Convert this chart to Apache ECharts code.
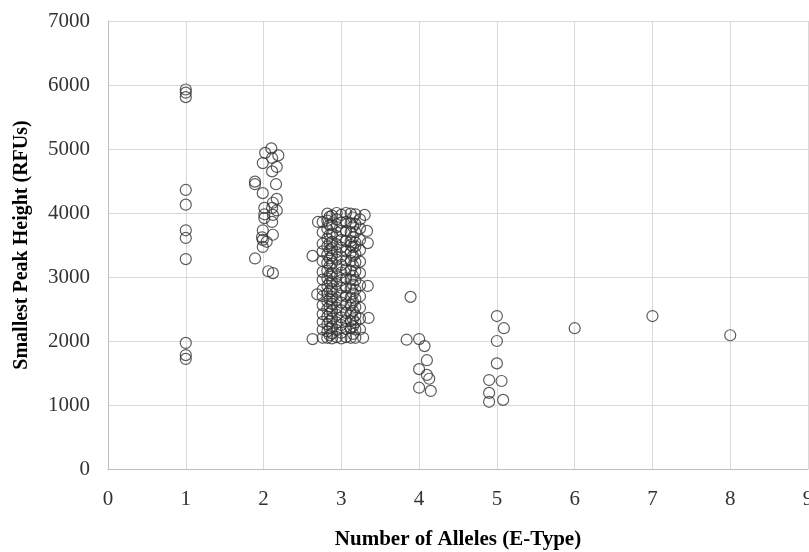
<!DOCTYPE html>
<html>
<head>
<meta charset="utf-8">
<script src="https://cdn.jsdelivr.net/npm/echarts@6/dist/echarts.min.js"></script>
<style>
    html, body {margin: 0; padding: 0; background: #fff;}
    #main {width: 809px; height: 552px;}
</style>
</head>
<body>
<div id="main"></div>
<script>
    // one allele
    var one = [[1, 5930], [1, 5880], [1, 5810], [1, 4360], [1, 4130], [1, 3730], [1, 3610], [1, 3280], [1, 1970], [1, 1780], [1, 1720]];
    // two alleles (jittered around 2)
    var two = [
        [2.10, 5010], [2.02, 4940], [2.19, 4900], [2.11, 4860], [1.99, 4780], [2.17, 4720], [2.11, 4650],
        [1.89, 4490], [1.89, 4450], [2.16, 4450], [1.99, 4310], [2.17, 4220], [2.12, 4160], [2.11, 4080],
        [2.01, 4080], [2.17, 4040], [2.01, 3980], [2.12, 3970], [2.01, 3920], [2.11, 3860], [1.99, 3730],
        [2.12, 3660], [1.98, 3620], [1.99, 3580], [2.04, 3550], [1.99, 3470], [1.89, 3290], [2.06, 3090], [2.12, 3060]
    ];
    // three alleles, column by column
    var threeCols = [2.76, 2.82, 2.85, 2.88, 2.94, 3.00, 3.06, 3.12, 3.15, 3.18, 3.24];
    var threeVals = [
        [3860, 3700, 3520, 3400, 3250, 3080, 2960, 2800, 2700, 2560, 2420, 2300, 2180, 2050],
        [3990, 3880, 3750, 3600, 3480, 3350, 3220, 3100, 2980, 2860, 2740, 2620, 2500, 2380, 2260, 2150, 2050],
        [3940, 3810, 3660, 3530, 3420, 3290, 3170, 3030, 2910, 2780, 2650, 2540, 2430, 2310, 2200, 2090],
        [3960, 3820, 3680, 3550, 3450, 3330, 3210, 3060, 2930, 2810, 2690, 2580, 2470, 2350, 2230, 2120, 2040],
        [4000, 3900, 3780, 3640, 3510, 3390, 3270, 3140, 3010, 2890, 2770, 2640, 2520, 2410, 2290, 2170, 2060],
        [3970, 3850, 3720, 3580, 3460, 3320, 3190, 3070, 2950, 2830, 2710, 2600, 2480, 2370, 2250, 2130, 2040],
        [4000, 3860, 3720, 3560, 3400, 3260, 3120, 2980, 2840, 2700, 2570, 2440, 2310, 2190, 2060],
        [3990, 3840, 3700, 3560, 3500, 3380, 3250, 3100, 2960, 2820, 2680, 2560, 2430, 2310, 2200, 2050],
        [3930, 3790, 3620, 3470, 3330, 3180, 3020, 2880, 2740, 2610, 2470, 2340, 2230, 2110],
        [3980, 3830, 3700, 3540, 3480, 3360, 3230, 3090, 2950, 2800, 2660, 2530, 2400, 2290, 2180, 2050],
        [3900, 3760, 3580, 3420, 3240, 3060, 2870, 2700, 2520, 2350, 2180]
    ];
    var threeOut = [[2.63, 3330], [2.70, 3860], [2.69, 2730], [2.63, 2030], [3.30, 3970], [3.33, 3720],
        [3.34, 3530], [3.34, 2860], [3.35, 2360], [3.28, 2050]];
    // four alleles
    var four = [[3.89, 2690], [3.84, 2020], [4.00, 2030], [4.07, 1920], [4.10, 1700], [4.00, 1560],
        [4.10, 1470], [4.13, 1410], [4.00, 1270], [4.15, 1220]];
    // five alleles
    var five = [[5.00, 2390], [5.09, 2200], [5.00, 2000], [5.00, 1650], [4.90, 1390], [5.06, 1375],
        [4.90, 1190], [4.90, 1050], [5.08, 1080]];
    // six to eight
    var more = [[6, 2200], [7, 2390], [8, 2090]];

    var points = [].concat(one, two, threeOut, four, five, more);
    threeCols.forEach(function (x, i) {
        threeVals[i].forEach(function (y) {
            points.push([x, y]);
        });
    });

    var font = 'Liberation Serif';
    var chart = echarts.init(document.getElementById('main'));
    chart.setOption({
        animation: false,
        grid: {left: 108, right: 1, top: 21, bottom: 83, containLabel: false, outerBoundsMode: 'none'},
        xAxis: {
            type: 'value', min: 0, max: 9, interval: 1,
            name: 'Number of Alleles (E-Type)', nameLocation: 'middle', nameGap: 60,
            nameTextStyle: {fontFamily: font, fontSize: 21, fontWeight: 'bold', color: '#000'},
            axisLine: {show: true, lineStyle: {color: '#bfbfbf', width: 1}},
            axisTick: {show: false},
            axisLabel: {fontFamily: font, fontSize: 21, color: '#333', margin: 20, showMaxLabel: true,
                hideOverlap: false},
            splitLine: {show: true, lineStyle: {color: '#d9d9d9', width: 1}}
        },
        yAxis: {
            type: 'value', min: 0, max: 7000, interval: 1000,
            name: 'Smallest Peak Height (RFUs)', nameLocation: 'middle', nameGap: 76,
            nameTextStyle: {fontFamily: font, fontSize: 20, fontWeight: 'bold', color: '#000'},
            axisLine: {show: true, lineStyle: {color: '#bfbfbf', width: 1}},
            axisTick: {show: false},
            axisLabel: {fontFamily: font, fontSize: 21, color: '#333', margin: 18,
                formatter: function (v) { return String(v); }},
            splitLine: {show: true, lineStyle: {color: '#d9d9d9', width: 1}}
        },
        series: [{
            type: 'scatter',
            symbol: 'circle',
            symbolSize: 11,
            itemStyle: {color: 'rgba(0,0,0,0)', borderColor: '#333', borderWidth: 1.2},
            data: points
        }]
    });
</script>
</body>
</html>
